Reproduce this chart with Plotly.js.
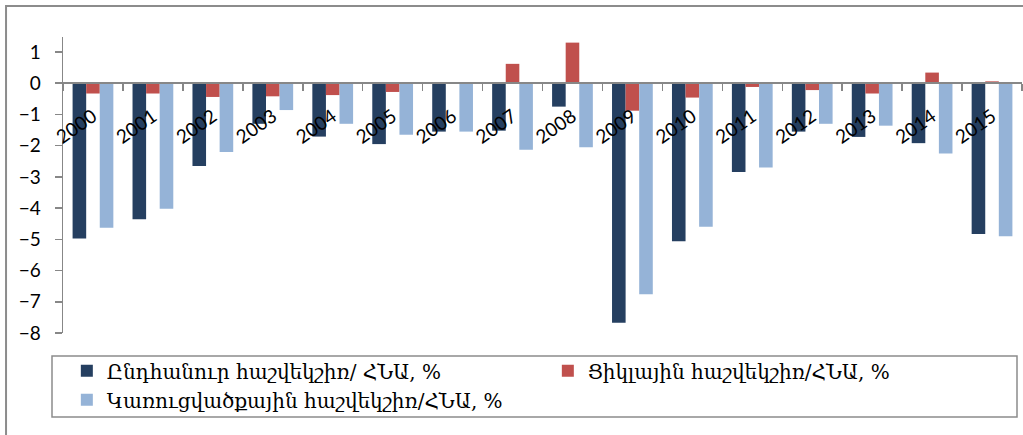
<!DOCTYPE html>
<html>
<head>
<meta charset="utf-8">
<script src="https://cdn.plot.ly/plotly-3.0.1.min.js"></script>
<style>html,body{margin:0;padding:0;background:#fff;}#chart{width:1023px;height:435px;}</style>
</head>
<body>
<div id="chart"></div>
<script>
var years = ["2000","2001","2002","2003","2004","2005","2006","2007","2008","2009","2010","2011","2012","2013","2014","2015"];
var seriesNames = ["Ընդհանուր հաշվեկշիռ/ ՀՆԱ, %", "Ցիկլային հաշվեկշիռ/ՀՆԱ, %", "Կառուցվածքային հաշվեկշիռ/ՀՆԱ, %"];
var overall    = [-4.97,-4.36,-2.65,-1.30,-1.71,-1.95,-1.55,-1.52,-0.75,-7.67,-5.06,-2.84,-1.55,-1.72,-1.92,-4.83];
var cyclical   = [-0.33,-0.33,-0.44,-0.42,-0.38,-0.28, 0.02, 0.62, 1.30,-0.88,-0.46,-0.12,-0.22,-0.33, 0.34, 0.06];
var structural = [-4.63,-4.02,-2.20,-0.86,-1.30,-1.65,-1.55,-2.13,-2.05,-6.76,-4.60,-2.70,-1.30,-1.36,-2.25,-4.90];
var colors = ["#253F60", "#C0504D", "#95B3D7"];

var traces = [overall, cyclical, structural].map(function (vals, i) {
  return {type: "bar", x: years, y: vals, name: seriesNames[i],
          marker: {color: colors[i], line: {width: 0}}};
});

var axisGray = "#878787";
var layout = {
  width: 1023, height: 435,
  margin: {l: 63, r: 1, t: 37, b: 102, pad: 0, autoexpand: false},
  paper_bgcolor: "#ffffff", plot_bgcolor: "#ffffff",
  barmode: "group", bargap: 0.32, bargroupgap: 0,
  font: {family: "Lato, 'Open Sans', sans-serif", size: 18, color: "#000"},
  xaxis: {
    type: "category", anchor: "free", position: 8 / 9.48,
    showline: true, linecolor: axisGray, linewidth: 2,
    ticks: "outside", tickson: "boundaries", ticklen: 7, tickcolor: axisGray, tickwidth: 1.5,
    tickangle: -35, ticklabelstandoff: 14,
    tickfont: {family: "Lato, sans-serif", size: 19, color: "#000"},
    showgrid: false, zeroline: false, fixedrange: true
  },
  yaxis: {
    range: [-8, 1.48], dtick: 1, tick0: 0,
    showline: true, linecolor: axisGray, linewidth: 1.5,
    ticks: "outside", ticklen: 7, tickcolor: axisGray, tickwidth: 1.5,
    ticklabelstandoff: 10,
    tickfont: {family: "Lato, sans-serif", size: 19, color: "#000"},
    showgrid: false, zeroline: false, fixedrange: true
  },
  showlegend: true,
  legend: {
    orientation: "h", x: 0.004, xanchor: "left", y: -0.0615, yanchor: "top",
    entrywidth: 436, entrywidthmode: "pixels",
    bgcolor: "rgba(0,0,0,0)", borderwidth: 0,
    font: {family: "'DejaVu Serif', serif", size: 20, color: "#000"},
    traceorder: "normal"
  },
  shapes: [
    {type: "rect", xref: "paper", yref: "paper", x0: -0.0594, x1: 1.2, y0: -0.6, y1: 1.1047,
     line: {color: "#8c8c8c", width: 2}, fillcolor: "rgba(0,0,0,0)", layer: "below"},
    {type: "rect", xref: "paper", yref: "paper", x0: -0.01147, x1: 0.99479, y0: -0.2838, y1: -0.0777,
     line: {color: "#8c8c8c", width: 1.5}, fillcolor: "rgba(0,0,0,0)", layer: "below"}
  ]
};

Plotly.newPlot("chart", traces, layout, {displayModeBar: false, staticPlot: true});
</script>
</body>
</html>
